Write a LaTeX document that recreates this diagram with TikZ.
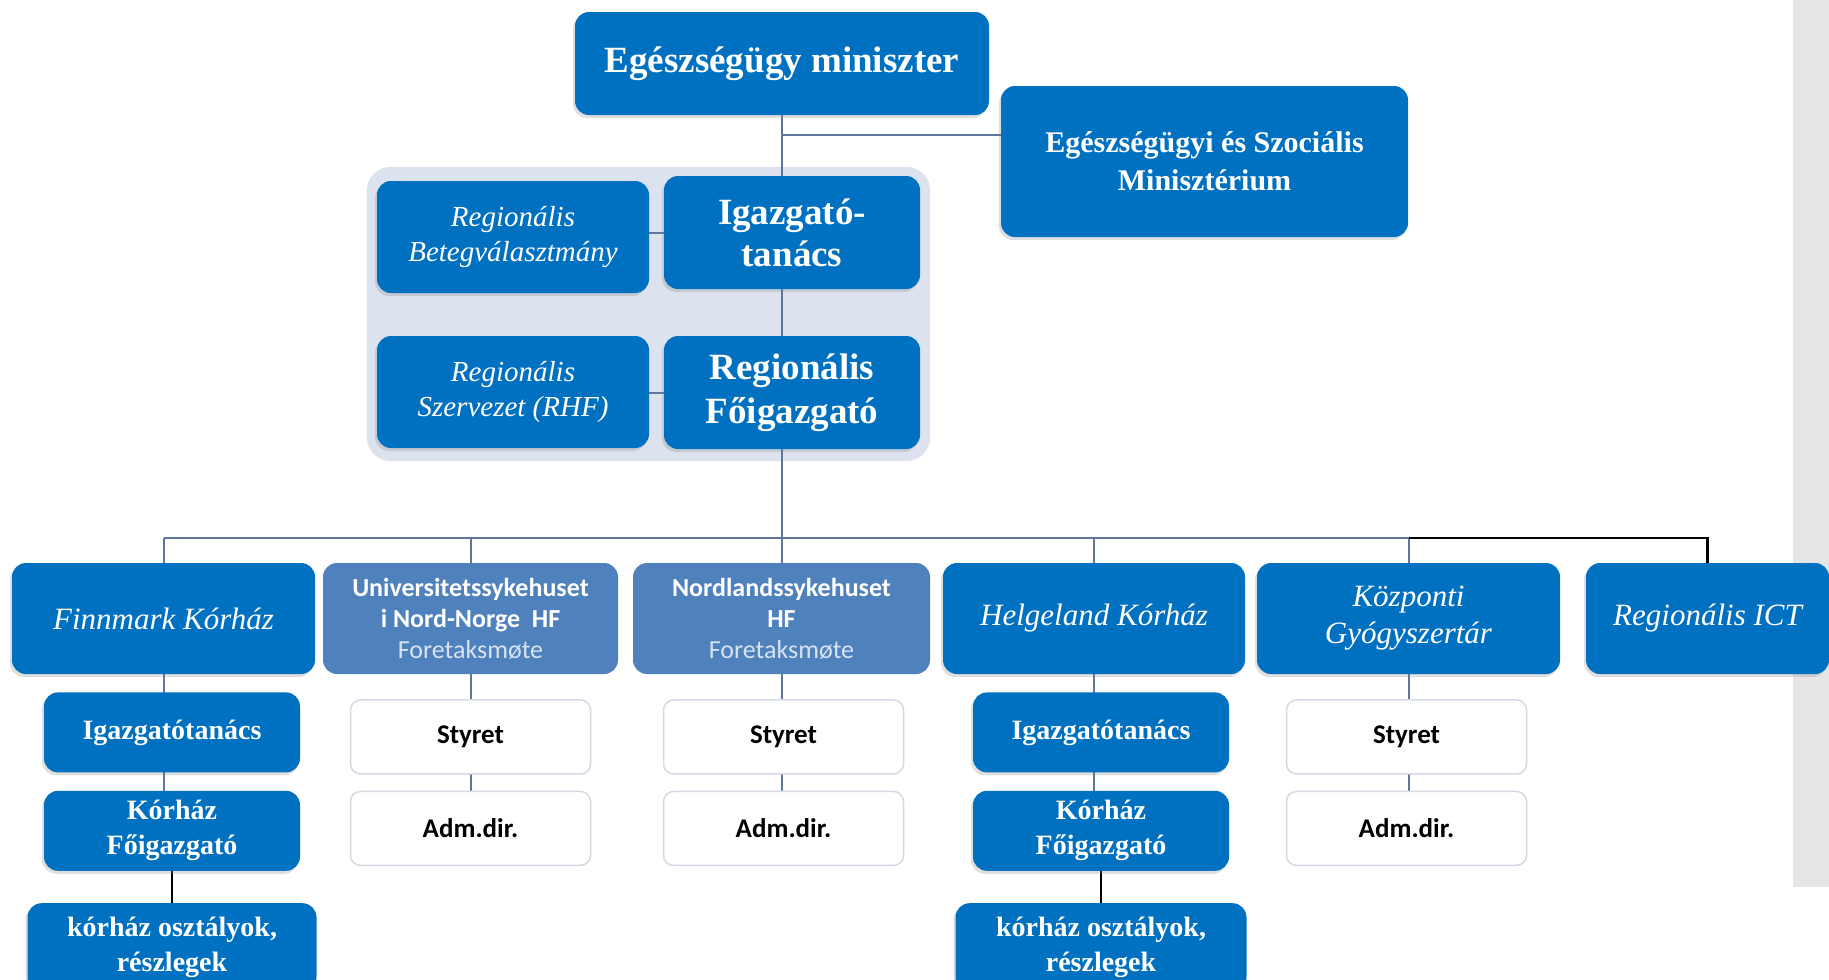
\documentclass[tikz,border=0pt]{standalone}
\usepackage{fontspec}
\setmainfont{Liberation Serif}
\newfontfamily\calibfont{Carlito}
\usetikzlibrary{positioning,shadows,backgrounds}
\definecolor{orgblue}{RGB}{0,112,192}
\definecolor{paleblue}{RGB}{79,129,189}
\definecolor{linegrey}{RGB}{96,118,158}
\definecolor{panelgrey}{RGB}{221,227,238}
\definecolor{stripgrey}{RGB}{230,230,230}
\definecolor{boxrim}{RGB}{212,218,228}

\begin{document}
\begin{tikzpicture}[x=1pt,y=-1pt,
	bluebox/.style={fill=orgblue,rounded corners=14pt,text=white,align=center,inner sep=0pt,drop shadow={opacity=0.25,shadow xshift=-2pt,shadow yshift=-3pt}},
	paleblock/.style={fill=paleblue,rounded corners=14pt,text=white,align=center,inner sep=0pt,minimum height=111pt,font=\calibfont\bfseries\fontsize{26}{31}\selectfont},
	whitebox/.style={draw=boxrim,line width=1.5pt,fill=white,rounded corners=10pt,minimum width=240pt,minimum height=74pt,font=\calibfont\bfseries\fontsize{27}{30}\selectfont},
	subbox/.style={bluebox,minimum width=256pt,minimum height=80pt,font=\bfseries\fontsize{28}{35}\selectfont},
	rowbox/.style={bluebox,minimum height=111pt,font=\itshape\fontsize{31}{37}\selectfont},
	conn/.style={draw=linegrey,line width=2pt},
	blackconn/.style={draw=black,line width=2.5pt},
	]
	\useasboundingbox (0,0) rectangle (1829,980);
	\clip (0,0) rectangle (1829,980);
	
	\fill[stripgrey] (1793,0) rectangle (1829,887);
	
	% top
	\node[bluebox,minimum width=414pt,minimum height=103pt,font=\bfseries\fontsize{37}{43}\selectfont] (mini) at (782,63.5) {Egészségügy miniszter};
	\node[bluebox,minimum width=407pt,minimum height=151pt,font=\bfseries\fontsize{30}{38}\selectfont] (minist) at (1204.5,161.5) {Egészségügyi és Szociális\\Minisztérium};
	
	% regional group
	\node[bluebox,minimum width=272pt,minimum height=112pt,font=\itshape\fontsize{29}{35}\selectfont] (beteg) at (513,237) {Regionális\\Betegválasztmány};
	\node[bluebox,minimum width=256pt,minimum height=113pt,font=\bfseries\fontsize{37}{42}\selectfont] (igt) at (792,232.5) {Igazgató-\\tanács};
	\node[bluebox,minimum width=272pt,minimum height=112pt,font=\itshape\fontsize{29}{35}\selectfont] (rhf) at (513,392) {Regionális\\Szervezet (RHF)};
	\node[bluebox,minimum width=256pt,minimum height=113pt,font=\bfseries\fontsize{37}{44}\selectfont] (foig) at (792,392.5) {Regionális\\Főigazgató};
	
	% hospitals
	\node[rowbox,minimum width=303pt] (finn) at (163.5,618.5) {Finnmark Kórház};
	\node[paleblock,minimum width=295pt] (univ) at (470.5,618.5) {Universitetssykehuset\\i Nord-Norge\ \ HF\\{\mdseries\color{white!78!paleblue}Foretaksmøte}};
	\node[paleblock,minimum width=297pt] (nord) at (781.5,618.5) {Nordlandssykehuset\\HF\\{\mdseries\color{white!78!paleblue}Foretaksmøte}};
	\node[rowbox,minimum width=302pt] (helg) at (1094,618.5) {Helgeland Kórház};
	\node[rowbox,minimum width=303pt] (kozp) at (1408.5,618.5) {Központi\\Gyógyszertár};
	\node[rowbox,minimum width=243pt] (ict) at (1707.5,618.5) {Regionális ICT};
	
	\coordinate (bus) at (782,538);
	
	% Finnmark
	\node[subbox,below=18pt of finn,xshift=8.5pt] (igt1) {Igazgatótanács};
	\node[subbox,below=18pt of igt1] (foig1) {Kórház\\Főigazgató};
	\node[subbox,below=32pt of foig1,minimum width=289pt,minimum height=88pt] (oszt1) {kórház osztályok,\\részlegek};
	
	% Helgeland
	\node[subbox,below=18pt of helg,xshift=7pt] (igt2) {Igazgatótanács};
	\node[subbox,below=18pt of igt2] (foig2) {Kórház\\Főigazgató};
	\node[subbox,below=32pt of foig2,minimum width=291pt,minimum height=88pt] (oszt2) {kórház osztályok,\\részlegek};
	
	% Styret / Adm.dir.
	\node[whitebox,below=25pt of univ] (styr1) {Styret};
	\node[whitebox,below=16pt of styr1] (adm1) {Adm.dir.};
	\node[whitebox,below=25pt of nord,xshift=2pt] (styr2) {Styret};
	\node[whitebox,below=16pt of styr2] (adm2) {Adm.dir.};
	\node[whitebox,below=25pt of kozp,xshift=-2pt] (styr3) {Styret};
	\node[whitebox,below=16pt of styr3] (adm3) {Adm.dir.};
	
	\begin{scope}[on background layer]
		\fill[panelgrey,rounded corners=24pt] ([shift={(-10,-14)}]beteg.north west) rectangle ([shift={(10,12)}]foig.south east);
		\draw[conn] (mini.south) -- (bus);
		\draw[conn] (mini.south |- 0,135) -- (minist.west |- 0,135);
		\draw[conn] (igt.west -| beteg.east) -- (igt.west);
		\draw[conn] (foig.west -| rhf.east) -- (foig.west);
		\draw[conn] (finn.north |- bus) -- (kozp.north |- bus);
		\foreach \h in {finn,univ,nord,helg,kozp}
		\draw[conn] (\h.north |- bus) -- (\h.north);
		\draw[blackconn] (kozp.north |- bus) -| (ict.north);
		\draw[conn] (finn.south) -- (finn.south |- foig1.north);
		\draw[conn] (helg.south) -- (helg.south |- foig2.north);
		\draw[conn] (univ.south) -- (adm1.north);
		\draw[conn] (nord.south) -- (nord.south |- adm2.north);
		\draw[conn] (kozp.south) -- (kozp.south |- adm3.north);
		\draw[blackconn] (foig1.south) -- (oszt1.north);
		\draw[blackconn] (foig2.south) -- (oszt2.north);
	\end{scope}
\end{tikzpicture}
\end{document}
